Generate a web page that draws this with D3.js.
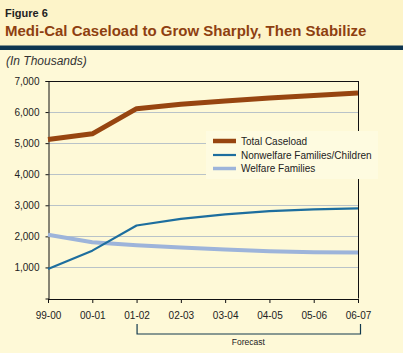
<!DOCTYPE html>
<html><head><meta charset="utf-8">
<script src="https://cdn.jsdelivr.net/npm/d3@7/dist/d3.min.js"></script>
<style>body{margin:0;padding:0;background:#FEF9D7;} svg{display:block;}</style>
</head><body><svg id="c" width="403" height="353"></svg>
<script>
const categories = ["99-00","00-01","01-02","02-03","03-04","04-05","05-06","06-07"];
const totalCaseload = [5120,5300,6110,6250,6360,6450,6530,6610];
const nonwelfare = [950,1540,2350,2560,2710,2810,2870,2900];
const welfare = [2050,1810,1710,1640,1580,1520,1490,1480];
const yTicks = [1000,2000,3000,4000,5000,6000,7000];
const seriesNames = ["Total Caseload","Nonwelfare Families/Children","Welfare Families"];

const FONT = "Liberation Sans, Arial, sans-serif";
const svg = d3.select("#c");
const W=403,H=353;
svg.append("rect").attr("width",W).attr("height",H).attr("fill","#FEF9D7");
svg.append("rect").attr("width",W).attr("height",46).attr("fill","#FDF4C9");
svg.append("rect").attr("x",0).attr("y",45.5).attr("width",W).attr("height",4.5).attr("fill","#0E3550");

svg.append("text").attr("x",5).attr("y",17).attr("font-family",FONT)
  .attr("font-weight","bold").attr("font-size",11).attr("fill","#222").text("Figure 6");
svg.append("text").attr("x",5).attr("y",35.5).attr("font-family",FONT)
  .attr("font-weight","bold").attr("font-size",15).attr("fill","#8E3F10").text("Medi-Cal Caseload to Grow Sharply, Then Stabilize");
svg.append("text").attr("x",6).attr("y",64.5).attr("font-family",FONT)
  .attr("font-style","italic").attr("font-size",12).attr("fill","#333").text("(In Thousands)");

const L=48,R=358,T=81,B=298.5;
const x = d3.scalePoint().domain(categories).range([L,R]);
const y = d3.scaleLinear().domain([0,7000]).range([B,T]);

// gridlines
svg.append("g").selectAll("line").data(yTicks.filter(d=>d<7000)).join("line")
  .attr("x1",L).attr("x2",R).attr("y1",d=>Math.round(y(d))+0.5).attr("y2",d=>Math.round(y(d))+0.5)
  .attr("stroke","#B9C3C8").attr("stroke-width",1);

// frame top & right
svg.append("line").attr("x1",L).attr("x2",R+0.5).attr("y1",T+0.5).attr("y2",T+0.5).attr("stroke","#111");
svg.append("line").attr("x1",R+0.5).attr("x2",R+0.5).attr("y1",T).attr("y2",B).attr("stroke","#111");

// y axis
const ya = svg.append("g").attr("transform",`translate(${L+0.5},0)`)
  .call(d3.axisLeft(y).tickValues(yTicks).tickSize(3).tickPadding(6).tickFormat(d3.format(",")));
ya.select(".domain").attr("stroke","#111");
ya.selectAll(".tick line").attr("stroke","#111");
ya.selectAll("text").attr("font-family",FONT).attr("font-size",10).attr("fill","#222");

// x axis
const xa = svg.append("g").attr("transform",`translate(0,${B+0.5})`)
  .call(d3.axisBottom(x).tickSize(4).tickPadding(9).tickSizeOuter(0));
xa.select(".domain").attr("stroke","#111");
xa.selectAll(".tick line").attr("stroke","#111");
xa.selectAll("text").attr("font-family",FONT).attr("font-size",10).attr("fill","#222");

// lines
const line = d3.line().x((d,i)=>x(categories[i])).y(d=>y(d));
const series = [
  {name:seriesNames[2], data:welfare, color:"#9DB4DA", w:4, lw:3.5},
  {name:seriesNames[1], data:nonwelfare, color:"#1D6E9E", w:2.2, lw:2.2},
  {name:seriesNames[0], data:totalCaseload, color:"#974510", w:5, lw:4.5},
];
svg.append("g").selectAll("path").data(series).join("path")
  .attr("d",d=>line(d.data)).attr("fill","none").attr("stroke",d=>d.color).attr("stroke-width",d=>d.w)
  .attr("stroke-linejoin","round");

// legend
const lg = svg.append("g");
lg.append("rect").attr("x",206).attr("y",131).attr("width",172).attr("height",48).attr("fill","#FEFBE0");
const legItems = [series[2],series[1],series[0]];
const ly=[141,155,168.5];
legItems.forEach((s,i)=>{
  lg.append("line").attr("x1",213).attr("x2",236).attr("y1",ly[i]).attr("y2",ly[i])
    .attr("stroke",s.color).attr("stroke-width",s.lw);
  lg.append("text").attr("x",241).attr("y",ly[i]+3.5).attr("font-family",FONT)
    .attr("font-size",10).attr("fill","#222").text(s.name);
});

// forecast bracket
const fx1 = x("01-02"), fx2 = x("06-07")+2;
svg.append("path").attr("d",`M${fx1+0.5},324V334H${fx2+0.5}V324`).attr("fill","none").attr("stroke","#123A4E").attr("stroke-width",1.2);
svg.append("text").attr("x",(fx1+fx2)/2).attr("y",345).attr("text-anchor","middle")
  .attr("font-family",FONT).attr("font-size",8.5).attr("fill","#222").text("Forecast");
</script></body></html>
